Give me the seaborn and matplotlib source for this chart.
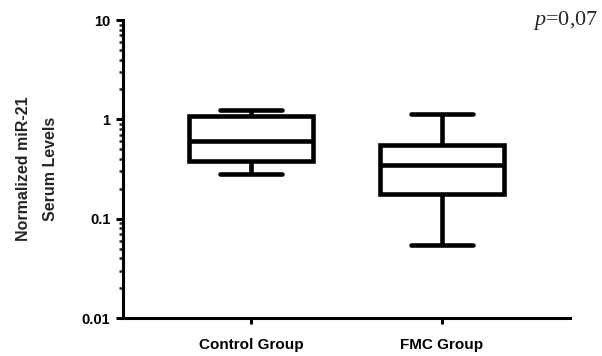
import matplotlib
matplotlib.use("Agg")
import matplotlib.pyplot as plt
import matplotlib.ticker as mticker
import numpy as np
import pandas as pd
import seaborn as sns

# Five-number summaries (min, Q1, median, Q3, max) per group
groups = ["Control Group", "FMC Group"]
control_summary = [0.283, 0.377, 0.60, 1.08, 1.23]
fmc_summary = [0.0546, 0.178, 0.343, 0.546, 1.12]
y_ticks = [0.01, 0.1, 1, 10]
y_tick_labels = ["0.01", "0.1", "1", "10"]
p_text = "$p$=0,07"

df = pd.DataFrame({
    "group": [groups[0]] * len(control_summary) + [groups[1]] * len(fmc_summary),
    "value": control_summary + fmc_summary,
})

sns.set_theme(style="ticks")
plt.rcParams["font.family"] = ["Liberation Sans", "DejaVu Sans"]
plt.rcParams["mathtext.fontset"] = "custom"
plt.rcParams["mathtext.it"] = "Liberation Serif:italic"
plt.rcParams["mathtext.rm"] = "Liberation Serif"

fig = plt.figure(figsize=(6.02, 3.56), dpi=100)
ax = fig.add_axes([123 / 602, 1 - 318 / 356, (570 - 123) / 602, (318 - 20) / 356])

lw = 3.3
sns.boxplot(
    data=df, x="group", y="value", ax=ax,
    log_scale=True, whis=(0, 100), width=0.65,
    color="white", linecolor="black", linewidth=lw,
    showfliers=False,
)

ax.set_ylim(0.01, 10)
ax.set_xlim(-0.67, 1.67)
ax.set_yticks(y_ticks)
ax.set_yticklabels(y_tick_labels)
ax.yaxis.set_minor_locator(mticker.LogLocator(base=10, subs=np.arange(2, 10)))
ax.yaxis.set_minor_formatter(mticker.NullFormatter())

for s in ["top", "right"]:
    ax.spines[s].set_visible(False)
for s in ["left", "bottom"]:
    ax.spines[s].set_linewidth(2.2)
    ax.spines[s].set_color("black")

ax.tick_params(axis="y", which="major", direction="out", length=5, width=2.2,
               labelsize=10.5, pad=4, colors="black")
ax.tick_params(axis="y", which="minor", direction="out", length=2.8, width=1.8)
ax.tick_params(axis="x", which="major", direction="out", length=4.5, width=2.2,
               labelsize=11, pad=10, colors="black")
for lab in ax.get_xticklabels() + ax.get_yticklabels():
    lab.set_fontweight("bold")

ax.set_xlabel("")
ax.set_ylabel("Normalized miR-21\nSerum Levels", fontsize=11.5, fontweight="bold",
              linespacing=2.0)
ax.yaxis.set_label_coords(-(123 - 58) / (570 - 123), 0.5)

fig.text(598 / 602, 1 - 20 / 356, p_text, ha="right", va="center",
         fontsize=16, family="Liberation Serif")

fig.savefig("out.png", dpi=100, facecolor="white")
